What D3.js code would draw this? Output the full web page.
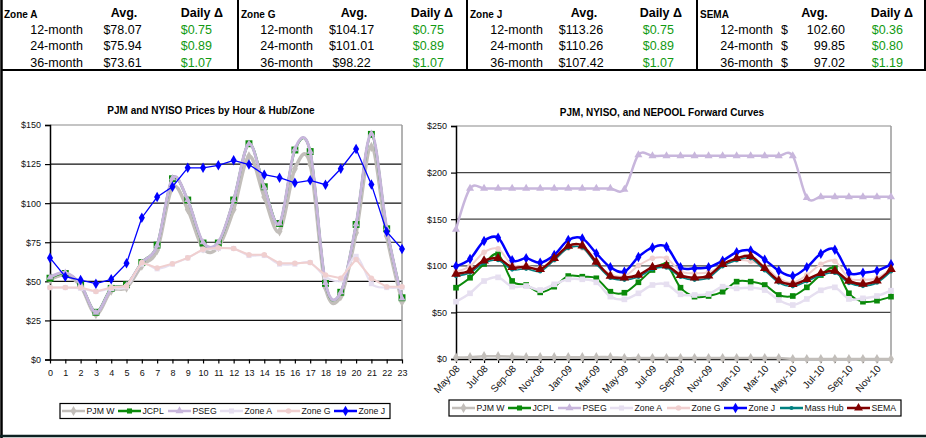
<!DOCTYPE html>
<html><head><meta charset="utf-8">
<script src="https://cdn.jsdelivr.net/npm/d3@7"></script>
<style>body{margin:0;background:#fff;} svg{display:block;font-family:"Liberation Sans",Arial,sans-serif;}</style>
</head><body><svg id="c" width="926" height="438"></svg>
<script>
// ---------- DATA ----------
const tableZones = ["Zone A", "Zone G", "Zone J", "SEMA"];
const tenors = ["12-month", "24-month", "36-month"];
const avgZoneA = [78.07, 75.94, 73.61];
const avgZoneG = [104.17, 101.01, 98.22];
const avgZoneJ = [113.26, 110.26, 107.42];
const avgSEMA = [102.60, 99.85, 97.02];
const dailyZoneA = [0.75, 0.89, 1.07];
const dailyZoneG = [0.75, 0.89, 1.07];
const dailyZoneJ = [0.75, 0.89, 1.07];
const dailySEMA = [0.36, 0.80, 1.19];

const hours = [0,1,2,3,4,5,6,7,8,9,10,11,12,13,14,15,16,17,18,19,20,21,22,23];
const hourlyPJMW  = [51, 54, 47, 29, 44, 46, 60, 70, 110, 96, 71, 72, 96, 130, 104, 82, 122, 125, 46, 40.5, 81, 136, 79, 37];
const hourlyJCPL  = [52, 55, 48, 30.2, 45.5, 47.8, 62, 73.2, 115.6, 102, 74.5, 74.5, 102, 138, 110.5, 87, 134, 133, 48.7, 43, 86.4, 144, 83.6, 39.5];
const hourlyPSEG  = [52.5, 55.5, 48, 30, 45, 47.5, 62, 73, 116, 102, 75, 75, 102, 138, 110, 87, 134.5, 133, 49, 43, 86.5, 144.5, 84, 39];
const hourlyZoneA = [46, 46, 45.5, 43.5, 45.5, 46.5, 61, 58, 61, 65, 70, 71, 71, 66.5, 66.5, 61, 61, 62, 53, 51, 66, 48.5, 46, 46];
const hourlyZoneG = [46, 46, 46, 43.5, 46, 47, 62, 58.5, 61.3, 65, 70.5, 71.5, 71, 67, 67, 61.5, 61.5, 62, 54, 52, 64, 52, 46.5, 46.5];
const hourlyZoneJ = [65, 53, 50.8, 48.5, 51.3, 61.5, 90.7, 103.9, 110.5, 122.6, 122.6, 124.2, 127.4, 124.7, 118.2, 116.3, 113, 114.6, 111.8, 122, 134.6, 112, 81.7, 70.7];
const hourTicks = [0, 25, 50, 75, 100, 125, 150];

const months = ["May-08","Jun-08","Jul-08","Aug-08","Sep-08","Oct-08","Nov-08","Dec-08",
  "Jan-09","Feb-09","Mar-09","Apr-09","May-09","Jun-09","Jul-09","Aug-09","Sep-09","Oct-09","Nov-09","Dec-09",
  "Jan-10","Feb-10","Mar-10","Apr-10","May-10","Jun-10","Jul-10","Aug-10","Sep-10","Oct-10","Nov-10","Dec-10"];
const monthLabels = ["May-08","Jul-08","Sep-08","Nov-08","Jan-09","Mar-09","May-09","Jul-09","Sep-09","Nov-09","Jan-10","Mar-10","May-10","Jul-10","Sep-10","Nov-10"];
const fwdPJMW   = [1.5, 2, 3, 3, 2.5, 2, 2, 2, 2, 2, 2, 2, 1, 1, 1, 1, 1, 1, 1, 1, 1, 1, 1, 1, 0, 0, 0, 0, 0, 0, 0, 0];
const fwdJCPL   = [76.5, 87.2, 102, 112.3, 83.7, 79.4, 71.5, 77.6, 89, 88.3, 86.6, 72.2, 71.1, 82.3, 95.5, 100.9, 76.5, 66.9, 67.6, 72.2, 83, 83, 79.4, 68.7, 67.6, 76.9, 90.1, 97.3, 70.5, 61.5, 62.6, 66.9];
const fwdPSEG   = [139, 183, 183, 183, 183, 183, 183, 183, 183, 183, 183, 183, 182, 219, 218, 218, 218, 218, 218, 218, 218, 218, 218, 218, 218, 173, 174, 174, 174, 174, 174, 174];
const fwdZoneA  = [61.5, 70.5, 83.7, 87.6, 77.6, 78.3, 74, 80.1, 85.5, 85.5, 82.3, 66.9, 64, 70.5, 79.4, 80.1, 69.4, 68.7, 69.7, 77.6, 75.8, 76.5, 74, 63.3, 57.9, 64.4, 73.7, 76.9, 64.4, 65.1, 67.6, 73.3];
const fwdZoneG  = [93.7, 99.6, 114.6, 118.2, 100.9, 100, 97.5, 106, 119, 119, 103, 91, 89, 100.2, 108, 108, 94, 92, 93, 100, 106, 104.8, 99, 86.6, 82, 90, 101.6, 105, 86.6, 85, 86.6, 97];
const fwdZoneJ  = [99.6, 107.3, 126.6, 130, 106, 108, 103.3, 111.6, 127.7, 129.4, 113.3, 98.4, 93.7, 109.5, 119.5, 120.3, 98.4, 97.3, 98.4, 105.5, 114.5, 116.4, 106.6, 94.8, 89, 98.4, 113, 117.3, 92.6, 92.6, 94.8, 101.6];
const fwdMassHub= [89, 92.5, 103, 106, 96, 96.8, 94, 106, 119, 119.4, 101.8, 87, 85, 88, 96.2, 98, 88, 85, 87.2, 99.4, 106, 108, 95, 82, 78, 83.3, 89.8, 92.3, 81.5, 78.3, 81.8, 94];
const fwdSEMA   = [91.2, 94.8, 105.5, 108, 98.4, 99, 96.2, 108, 121.2, 121.6, 104, 89, 87.2, 90.1, 98.4, 100.2, 90, 87.2, 89.4, 101.6, 108, 110.2, 97.3, 84, 80.1, 85.5, 91.9, 94.4, 83.7, 80.5, 84, 96.2];
const fwdTicks = [0, 50, 100, 150, 200, 250];

// ---------- STYLES ----------
const styles = {
  "PJM W":   {color:"#c2beba", sym:d3.symbolDiamond, size:30},
  "JCPL":    {color:"#0a8a0a", sym:d3.symbolSquare, size:26},
  "PSEG":    {color:"#c8b6dc", sym:d3.symbolTriangle, size:28},
  "Zone A":  {color:"#e6dff0", sym:d3.symbolSquare, size:26},
  "Zone G":  {color:"#f0cfcf", sym:d3.symbolCircle, size:24},
  "Zone J":  {color:"#0000ff", sym:d3.symbolDiamond, size:32},
  "Mass Hub":{color:"#008080", sym:d3.symbolCircle, size:14},
  "SEMA":    {color:"#800000", sym:d3.symbolTriangle, size:34}
};

const svg = d3.select("#c");
const smooth = d3.curveCardinal.tension(0);

// ---------- TABLE ----------
const tableData = [
  {zone:tableZones[0], avg:avgZoneA, daily:dailyZoneA},
  {zone:tableZones[1], avg:avgZoneG, daily:dailyZoneG},
  {zone:tableZones[2], avg:avgZoneJ, daily:dailyZoneJ},
  {zone:tableZones[3], avg:avgSEMA, daily:dailySEMA}
];
const boxL = [
  {x0:4,  avgHdr:124,   ten:83,  avg:122.5, dHdr:223, dVal:212},
  {x0:241,avgHdr:354,   ten:313, avg:351.5, dHdr:453, dVal:444},
  {x0:470,avgHdr:584,   ten:543, avg:581,   dHdr:682, dVal:674},
  {x0:700,avgHdr:814.5, ten:773, avg:null,  dHdr:913, dVal:903}
];
const rowY = [34, 50.3, 66.5];
const tbl = svg.append("g");
tableData.forEach((b, i) => {
  const L = boxL[i];
  tbl.append("text").attr("x", L.x0).attr("y", 18).attr("font-size", 10).attr("font-weight", "bold").text(b.zone);
  tbl.append("text").attr("x", L.avgHdr).attr("y", 17).attr("font-size", 12.5).attr("font-weight", "bold").attr("text-anchor", "middle").text("Avg.");
  tbl.append("text").attr("x", L.dHdr).attr("y", 17).attr("font-size", 12.5).attr("font-weight", "bold").attr("text-anchor", "end").text("Daily \u0394");
  tenors.forEach((t, r) => {
    tbl.append("text").attr("x", L.ten).attr("y", rowY[r]).attr("font-size", 12.5).attr("text-anchor", "end").text(t);
    if (L.avg !== null) {
      tbl.append("text").attr("x", L.avg).attr("y", rowY[r]).attr("font-size", 12.5).attr("text-anchor", "middle").text("$" + b.avg[r].toFixed(2));
    } else {
      tbl.append("text").attr("x", 781).attr("y", rowY[r]).attr("font-size", 12.5).text("$");
      tbl.append("text").attr("x", 845).attr("y", rowY[r]).attr("font-size", 12.5).attr("text-anchor", "end").text(b.avg[r].toFixed(2));
    }
    tbl.append("text").attr("x", L.dVal).attr("y", rowY[r]).attr("font-size", 12.5).attr("text-anchor", "end").attr("fill", "#129a12").text("$" + b.daily[r].toFixed(2));
  });
});
[[238,0,238,70],[467,0,467,70],[697,0,697,70],[925,0,925,70],[1,70,926,70]].forEach(l =>
  tbl.append("line").attr("x1", l[0]).attr("y1", l[1]).attr("x2", l[2]).attr("y2", l[3]).attr("stroke", "#000").attr("stroke-width", 2));
svg.append("line").attr("x1", 1.5).attr("y1", 0).attr("x2", 1.5).attr("y2", 438).attr("stroke", "#000").attr("stroke-width", 2.5);
svg.append("line").attr("x1", 0).attr("y1", 436).attr("x2", 926).attr("y2", 436).attr("stroke", "#0d2222").attr("stroke-width", 2.5);

// ---------- helpers ----------
function drawPanel(opt) {
  const g = svg.append("g");
  const {x, y, ticks, x0, x1, y0, y1} = opt;
  ticks.filter(t => t > 0).forEach(t => {
    g.append("line").attr("x1", x0).attr("x2", x1).attr("y1", y(t)).attr("y2", y(t))
      .attr("stroke", t === ticks[ticks.length - 1] ? "#8a8a8a" : opt.gridColor).attr("stroke-width", 1.2);
  });
  g.append("line").attr("x1", x1).attr("x2", x1).attr("y1", y1).attr("y2", y0).attr("stroke", "#9a9a9a").attr("stroke-width", 1.5);
  const ya = g.append("g").attr("transform", `translate(${x0},0)`)
    .call(d3.axisLeft(y).tickValues(ticks).tickSize(5).tickPadding(4).tickFormat(d => "$" + d));
  ya.select(".domain").attr("stroke", "#000").attr("stroke-width", 1.5);
  ya.selectAll(".tick line").attr("stroke", "#000").attr("stroke-width", 1.2);
  ya.selectAll("text").attr("font-size", 9).attr("fill", "#111").attr("font-family", "Liberation Sans, Arial, sans-serif");
  const xa = g.append("g").attr("transform", `translate(0,${y0})`)
    .call(d3.axisBottom(x).tickSize(4).tickPadding(opt.xPad).tickSizeOuter(0).tickFormat(opt.xFormat));
  xa.select(".domain").attr("stroke", "#000").attr("stroke-width", 1.5);
  xa.selectAll(".tick line").attr("stroke", "#000").attr("stroke-width", 1.2);
  xa.selectAll("text").attr("font-size", opt.rotate ? 10 : 9).attr("fill", "#111").attr("font-family", "Liberation Sans, Arial, sans-serif");
  if (opt.rotate) {
    xa.selectAll("text").attr("text-anchor", "end").attr("dy", "0").attr("y", 0).attr("transform", "translate(4,10) rotate(-48)");
  }
  g.append("text").attr("x", opt.titleX).attr("y", opt.titleY).attr("text-anchor", "middle")
    .attr("font-size", 10).attr("font-weight", "bold").text(opt.title);
  opt.series.forEach(s => {
    const st = styles[s.name];
    const line = d3.line().x((d, i) => x(opt.cats[i])).y(d => y(d)).curve(s.smooth ? smooth : d3.curveLinear);
    g.append("path").datum(s.values).attr("d", line).attr("fill", "none")
      .attr("stroke", st.color).attr("stroke-width", s.w);
    g.selectAll(null).data(s.values).enter().append("path")
      .attr("transform", (d, i) => `translate(${x(opt.cats[i])},${y(d)})`)
      .attr("d", d3.symbol().type(st.sym).size(s.msize || st.size)).attr("fill", st.color);
  });
  const lg = opt.legend;
  g.append("rect").attr("x", lg.x).attr("y", lg.y).attr("width", lg.w).attr("height", lg.h)
    .attr("fill", "#fff").attr("stroke", "#000").attr("stroke-width", 1.2);
  lg.items.forEach(it => {
    const st = styles[it.name];
    const cy = lg.y + lg.h / 2;
    g.append("line").attr("x1", it.lx).attr("x2", it.lx + 23).attr("y1", cy).attr("y2", cy)
      .attr("stroke", st.color).attr("stroke-width", 2.5);
    g.append("path").attr("transform", `translate(${it.lx + 11.5},${cy})`)
      .attr("d", d3.symbol().type(st.sym).size(st.size)).attr("fill", st.color);
    g.append("text").attr("x", it.lx + 24.5).attr("y", cy + 3.3).attr("font-size", 8.7).attr("fill", "#111").text(it.name);
  });
}

// ---------- LEFT CHART ----------
drawPanel({
  x: d3.scalePoint().domain(hours).range([50, 402]),
  y: d3.scaleLinear().domain([0, 150]).range([359.5, 125]),
  ticks: hourTicks, x0: 50, x1: 402, y0: 359.5, y1: 125,
  gridColor: "#111", xPad: 6, xFormat: d => d, rotate: false,
  title: "PJM and NYISO Prices by Hour & Hub/Zone", titleX: 211, titleY: 114,
  cats: hours,
  series: [
    {name: "PJM W", values: hourlyPJMW, smooth: true, w: 3.5},
    {name: "JCPL", values: hourlyJCPL, smooth: true, w: 2.5, msize: 48},
    {name: "PSEG", values: hourlyPSEG, smooth: true, w: 3, msize: 22},
    {name: "Zone A", values: hourlyZoneA, smooth: true, w: 2},
    {name: "Zone G", values: hourlyZoneG, smooth: false, w: 2},
    {name: "Zone J", values: hourlyZoneJ, smooth: false, w: 1.3}
  ],
  legend: {x: 60, y: 403.5, w: 330, h: 15, items: [
    {name: "PJM W", lx: 62}, {name: "JCPL", lx: 118}, {name: "PSEG", lx: 168},
    {name: "Zone A", lx: 220}, {name: "Zone G", lx: 277}, {name: "Zone J", lx: 334}]}
});

// ---------- RIGHT CHART ----------
drawPanel({
  x: d3.scalePoint().domain(months).range([456, 891]),
  y: d3.scaleLinear().domain([0, 250]).range([359, 126]),
  ticks: fwdTicks, x0: 456, x1: 891, y0: 359, y1: 126,
  gridColor: "#444", xPad: 3, xFormat: d => monthLabels.includes(d) ? d : "", rotate: true,
  title: "PJM, NYISO, and NEPOOL Forward Curves", titleX: 662, titleY: 116,
  cats: months,
  series: [
    {name: "PJM W", values: fwdPJMW, smooth: true, w: 2.5},
    {name: "JCPL", values: fwdJCPL, smooth: true, w: 2, msize: 32},
    {name: "PSEG", values: fwdPSEG, smooth: true, w: 2.5},
    {name: "Zone A", values: fwdZoneA, smooth: true, w: 2.5, msize: 32},
    {name: "Zone G", values: fwdZoneG, smooth: true, w: 2},
    {name: "Zone J", values: fwdZoneJ, smooth: true, w: 2.5},
    {name: "Mass Hub", values: fwdMassHub, smooth: true, w: 1.5},
    {name: "SEMA", values: fwdSEMA, smooth: true, w: 2.5, msize: 40}
  ],
  legend: {x: 449, y: 400, w: 452, h: 16, items: [
    {name: "PJM W", lx: 452}, {name: "JCPL", lx: 508}, {name: "PSEG", lx: 558}, {name: "Zone A", lx: 610},
    {name: "Zone G", lx: 667}, {name: "Zone J", lx: 724}, {name: "Mass Hub", lx: 780}, {name: "SEMA", lx: 847}]}
});
</script></body></html>
